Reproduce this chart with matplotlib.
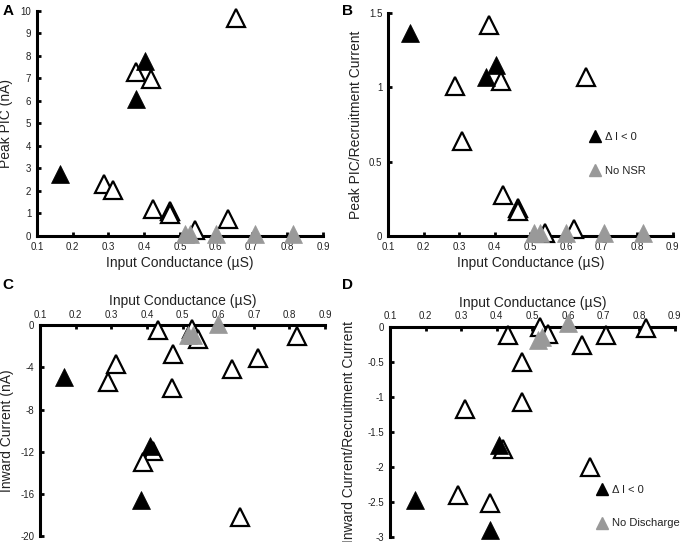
"""Recreate the four-panel input conductance scatter figure."""

import matplotlib
matplotlib.use("Agg")
import matplotlib.pyplot as plt
from matplotlib.lines import Line2D

plt.rcParams["font.family"] = ["Liberation Sans", "DejaVu Sans"]
plt.rcParams["axes.unicode_minus"] = False

# Panel A: Peak PIC (nA)
A_FILLED_X = [0.166, 0.378, 0.403]
A_FILLED_Y = [2.77, 6.1, 7.77]
A_OPEN_X = [0.289, 0.313, 0.378, 0.420, 0.426, 0.471, 0.471, 0.541, 0.634, 0.657]
A_OPEN_Y = [2.33, 2.06, 7.3, 6.96, 1.2, 1.1, 0.98, 0.25, 0.77, 9.67]
A_GRAY_X = [0.513, 0.527, 0.600, 0.709, 0.816]
A_GRAY_Y = [0.1, 0.1, 0.1, 0.1, 0.1]

# Panel B: Peak PIC / recruitment current
B_FILLED_X = [0.163, 0.376, 0.404]
B_FILLED_Y = [1.365, 1.07, 1.15]
B_OPEN_X = [0.383, 0.418, 0.287, 0.657, 0.309, 0.423, 0.465, 0.465, 0.540, 0.624]
B_OPEN_Y = [1.42, 1.04, 1.01, 1.07, 0.636, 0.276, 0.186, 0.168, 0.018, 0.05]
B_GRAY_X = [0.510, 0.526, 0.600, 0.708, 0.816]
B_GRAY_Y = [0.02, 0.02, 0.02, 0.02, 0.02]

# Panel C: Inward current (nA)
C_FILLED_X = [0.166, 0.409, 0.382]
C_FILLED_Y = [-4.9, -11.5, -16.6]
C_OPEN_X = [0.292, 0.313, 0.432, 0.472, 0.469, 0.418, 0.390, 0.661, 0.640,
            0.713, 0.820, 0.526, 0.544]
C_OPEN_Y = [-5.4, -3.7, -0.5, -2.7, -6.0, -11.9, -13.0, -18.2, -4.2,
            -3.1, -1.0, -0.4, -1.3]
C_GRAY_X = [0.516, 0.528, 0.600]
C_GRAY_Y = [-0.9, -0.9, 0.15]

# Panel D: Inward current / recruitment current
D_FILLED_X = [0.407, 0.170, 0.380]
D_FILLED_Y = [-1.69, -2.47, -2.9]
D_OPEN_X = [0.432, 0.521, 0.544, 0.470, 0.470, 0.310, 0.418, 0.638, 0.708,
            0.820, 0.661, 0.292, 0.380]
D_OPEN_Y = [-0.12, 0.0, -0.1, -0.5, -1.07, -1.17, -1.74, -0.26, -0.12,
            -0.02, -2.0, -2.4, -2.52]
D_GRAY_X = [0.516, 0.528, 0.600]
D_GRAY_Y = [-0.19, -0.15, 0.05]

X_TICKS = [0.1, 0.2, 0.3, 0.4, 0.5, 0.6, 0.7, 0.8, 0.9]
X_LABEL = "Input Conductance (\u00b5S)"

MS = 13.5
GRAY = "#999999"
TEXT = "#222222"


def draw(ax, fx, fy, ox, oy, gx, gy):
    ax.plot(ox, oy, ls="none", marker="^", ms=MS, mfc="white", mec="black",
            mew=1.6, clip_on=False, zorder=3)
    ax.plot(fx, fy, ls="none", marker="^", ms=MS, mfc="black", mec="black",
            mew=0.5, clip_on=False, zorder=4)
    ax.plot(gx, gy, ls="none", marker="^", ms=MS, mfc=GRAY, mec=GRAY,
            mew=0.5, clip_on=False, zorder=5)


def style(ax, top=False):
    for s in ax.spines.values():
        s.set_visible(False)
    ax.spines["left"].set_visible(True)
    ax.spines["left"].set_linewidth(2.2)
    key = "top" if top else "bottom"
    ax.spines[key].set_visible(True)
    ax.spines[key].set_linewidth(2.2)
    ax.tick_params(direction="in", length=3, width=2, labelsize=7,
                   labelcolor=TEXT, pad=4)
    if top:
        ax.xaxis.tick_top()
        ax.xaxis.set_label_position("top")
    ax.set_xlim(0.1, 0.9)
    ax.set_xticks(X_TICKS)
    ax.set_xticklabels([f"{t:g}" for t in X_TICKS])
    ax.set_xlabel(X_LABEL, fontsize=10, color=TEXT, labelpad=3)
    ax.set_facecolor("none")


def add_legend(ax, second, loc):
    handles = [
        Line2D([], [], ls="none", marker="^", ms=9, mfc="black", mec="black"),
        Line2D([], [], ls="none", marker="^", ms=9, mfc=GRAY, mec=GRAY),
    ]
    ax.legend(handles, ["\u0394 I < 0", second], frameon=False, fontsize=8,
              labelspacing=2.1, handletextpad=0.3, handlelength=1.2,
              loc="upper left", bbox_to_anchor=loc, labelcolor=TEXT)


fig = plt.figure(figsize=(6.83, 5.42), dpi=100)

ax_a = fig.add_axes([0.054, 0.5646, 0.419, 0.4154])
draw(ax_a, A_FILLED_X, A_FILLED_Y, A_OPEN_X, A_OPEN_Y, A_GRAY_X, A_GRAY_Y)
style(ax_a)
ax_a.set_ylim(0, 10)
ax_a.set_yticks(range(0, 11))
ax_a.set_ylabel("Peak PIC (nA)", fontsize=10, color=TEXT)
ax_a.yaxis.set_label_coords(-0.085, 0.5)

ax_b = fig.add_axes([0.568, 0.5646, 0.417, 0.4114])
draw(ax_b, B_FILLED_X, B_FILLED_Y, B_OPEN_X, B_OPEN_Y, B_GRAY_X, B_GRAY_Y)
style(ax_b)
ax_b.set_ylim(0, 1.5)
ax_b.set_yticks([0, 0.5, 1, 1.5])
ax_b.set_yticklabels(["0", "0.5", "1", "1.5"])
ax_b.set_ylabel("Peak PIC/Recruitment Current", fontsize=10, color=TEXT)
ax_b.yaxis.set_label_coords(-0.088, 0.5)
add_legend(ax_b, "No NSR", (0.67, 0.51))

ax_c = fig.add_axes([0.0586, 0.011, 0.4174, 0.389])
draw(ax_c, C_FILLED_X, C_FILLED_Y, C_OPEN_X, C_OPEN_Y, C_GRAY_X, C_GRAY_Y)
style(ax_c, top=True)
ax_c.set_ylim(-20, 0)
ax_c.set_yticks([0, -4, -8, -12, -16, -20])
ax_c.set_ylabel("Inward Current (nA)", fontsize=10, color=TEXT)
ax_c.yaxis.set_label_coords(-0.09, 0.5)

ax_d = fig.add_axes([0.571, 0.009, 0.417, 0.388])
draw(ax_d, D_FILLED_X, D_FILLED_Y, D_OPEN_X, D_OPEN_Y, D_GRAY_X, D_GRAY_Y)
style(ax_d, top=True)
ax_d.set_ylim(-3, 0)
ax_d.set_yticks([0, -0.5, -1, -1.5, -2, -2.5, -3])
ax_d.set_yticklabels(["0", "-0.5", "-1", "-1.5", "-2", "-2.5", "-3"])
ax_d.set_ylabel("Inward Current/Recruitment Current", fontsize=10, color=TEXT)
ax_d.yaxis.set_label_coords(-0.12, 0.5)
add_legend(ax_d, "No Discharge", (0.685, 0.295))

for letter, x, y in [("A", 0.004, 0.992), ("B", 0.501, 0.992),
                     ("C", 0.004, 0.488), ("D", 0.501, 0.488)]:
    fig.text(x, y, letter, fontsize=11, fontweight="bold", va="top")

fig.savefig("out.png", dpi=100)
